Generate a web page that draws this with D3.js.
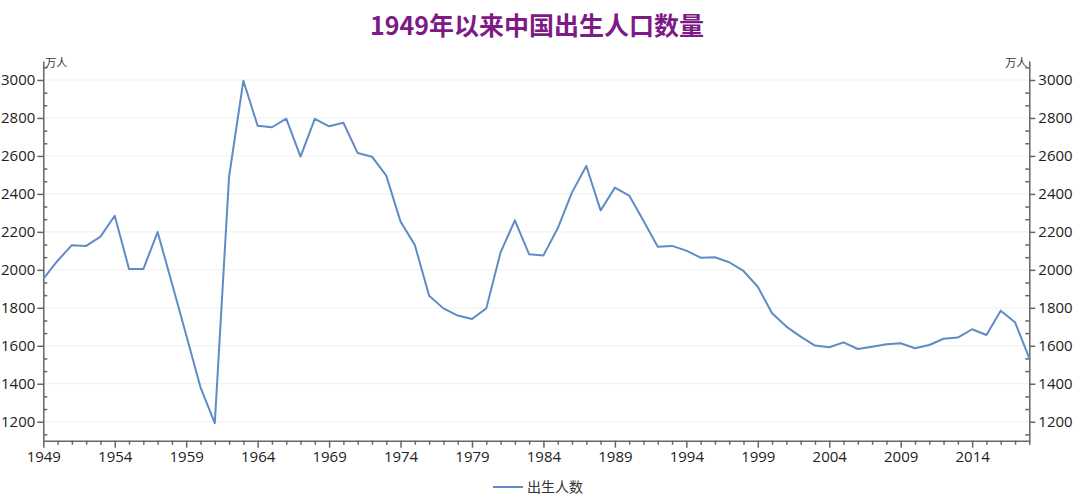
<!DOCTYPE html>
<html>
<head>
<meta charset="utf-8">
<script src="https://cdn.jsdelivr.net/npm/d3@7"></script>
<style>
  body { margin: 0; background: #fff; }
  text { font-family: "Noto Sans CJK SC", "Noto Sans", sans-serif; }
</style>
</head>
<body>
<div id="chart"></div>
<script>
// years and births (万人)
const years = d3.range(1949, 2019);
const births = [
  1952, 2048, 2130, 2126, 2175, 2285, 2004, 2004, 2199, 1929,
  1657, 1381, 1192, 2491, 2996, 2759, 2751, 2796, 2596, 2795,
  2756, 2775, 2615, 2596, 2496, 2254, 2131, 1864, 1797, 1759,
  1741, 1797, 2092, 2261, 2082, 2076, 2219, 2408, 2547, 2313,
  2433, 2391, 2259, 2122, 2126, 2101, 2064, 2066, 2040, 1994,
  1911, 1771, 1701, 1648, 1601, 1592, 1618, 1583, 1595, 1608,
  1613, 1587, 1604, 1637, 1643, 1687, 1657, 1785, 1724, 1535
];
const yTicks = [1200, 1400, 1600, 1800, 2000, 2200, 2400, 2600, 2800, 3000];
const xTicks = [1949, 1954, 1959, 1964, 1969, 1974, 1979, 1984, 1989, 1994, 1999, 2004, 2009, 2014];
const title = "1949年以来中国出生人口数量";
const seriesName = "出生人数";
const unit = "万人";

const W = 1080, H = 502;
const m = { left: 43.3, right: 1029.3, top: 61, bottom: 440.7 };

const svg = d3.select("#chart").append("svg")
  .attr("width", W).attr("height", H);

const x = d3.scaleLinear().domain([1949, 2018]).range([m.left, m.right]);
const y = d3.scaleLinear().domain([1100, 3100]).range([m.bottom, m.top]);

// grid lines
svg.append("g")
  .selectAll("line")
  .data(yTicks)
  .join("line")
  .attr("x1", m.left).attr("x2", m.right)
  .attr("y1", d => y(d)).attr("y2", d => y(d))
  .attr("stroke", "#efefef").attr("stroke-width", 1);

// minor ticks on the value axes
const minorY = d3.range(1133.33, 3100, 66.667).filter(v => yTicks.every(t => Math.abs(t - v) > 1));

function styleAxis(g) {
  g.select(".domain").attr("stroke", "#666").attr("stroke-width", 1.5);
  g.selectAll(".tick line").attr("stroke", "#666").attr("stroke-width", 1.5);
  g.selectAll(".tick text").attr("fill", "#222").style("font-size", "15px")
    .style("font-family", "'Open Sans', 'Noto Sans', sans-serif");
}

const yLeft = svg.append("g")
  .attr("transform", `translate(${m.left},0)`)
  .call(d3.axisLeft(y).tickValues(yTicks).tickFormat(d3.format("d")).tickSize(6).tickSizeOuter(0).tickPadding(2));
styleAxis(yLeft);

const yRight = svg.append("g")
  .attr("transform", `translate(${m.right},0)`)
  .call(d3.axisRight(y).tickValues(yTicks).tickFormat(d3.format("d")).tickSize(6).tickSizeOuter(0).tickPadding(3));
styleAxis(yRight);

svg.append("g").attr("transform", `translate(${m.left},0)`)
  .call(d3.axisRight(y).tickValues(minorY).tickSize(4).tickFormat(""))
  .call(g => g.select(".domain").remove())
  .call(g => g.selectAll("line").attr("stroke", "#666").attr("stroke-width", 1.5));

svg.append("g").attr("transform", `translate(${m.right},0)`)
  .call(d3.axisLeft(y).tickValues(minorY).tickSize(4).tickFormat(""))
  .call(g => g.select(".domain").remove())
  .call(g => g.selectAll("line").attr("stroke", "#666").attr("stroke-width", 1.5));

// x axis
const xAxis = svg.append("g")
  .attr("transform", `translate(0,${m.bottom})`)
  .call(d3.axisBottom(x).tickValues(xTicks).tickFormat(d3.format("d")).tickSize(7).tickSizeOuter(0).tickPadding(4));
styleAxis(xAxis);

svg.append("g").attr("transform", `translate(0,${m.bottom})`)
  .call(d3.axisBottom(x).tickValues(years.filter(v => !xTicks.includes(v))).tickSize(4).tickFormat(""))
  .call(g => g.select(".domain").remove())
  .call(g => g.selectAll("line").attr("stroke", "#666").attr("stroke-width", 1.5));

// unit labels
svg.append("text").attr("x", m.left + 2).attr("y", m.top + 6)
  .attr("font-size", 11).attr("fill", "#333").text(unit);
svg.append("text").attr("x", m.right - 2).attr("y", m.top + 6)
  .attr("text-anchor", "end").attr("font-size", 11).attr("fill", "#333").text(unit);

// the line
const line = d3.line().x((d, i) => x(years[i])).y(d => y(d));
svg.append("path")
  .datum(births)
  .attr("d", line)
  .attr("fill", "none")
  .attr("stroke", "#5f8cc6")
  .attr("stroke-width", 2)
  .attr("stroke-linejoin", "round");

// title
svg.append("text")
  .attr("x", 537).attr("y", 35)
  .attr("text-anchor", "middle")
  .attr("font-size", 25).attr("font-weight", "bold")
  .attr("fill", "#7d1a86")
  .text(title);

// legend
const lg = svg.append("g").attr("transform", "translate(493,487)");
lg.append("line").attr("x1", 0).attr("x2", 30).attr("y1", 0).attr("y2", 0)
  .attr("stroke", "#5f8cc6").attr("stroke-width", 2);
lg.append("text").attr("x", 34).attr("y", 5)
  .attr("font-size", 14).attr("fill", "#333").text(seriesName);
</script>
</body>
</html>
